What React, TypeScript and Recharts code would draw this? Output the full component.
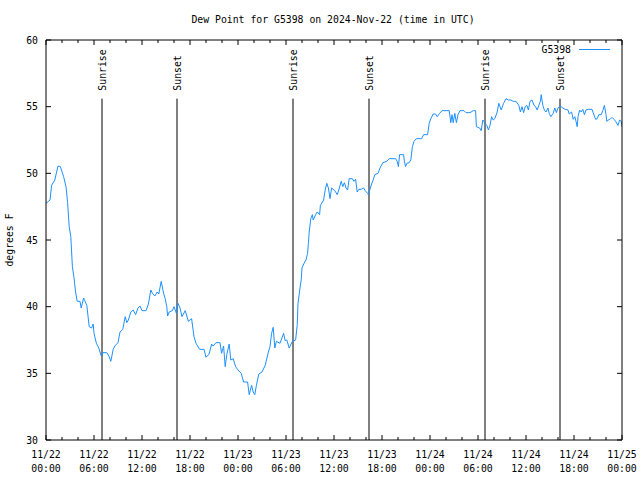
import React from 'react';
import { LineChart, Line, XAxis, YAxis, ReferenceLine } from 'recharts';

// Hours since 2024-11-22 00:00 UTC
const hours = [
  0, 0.5, 0.7, 1.1, 1.5, 1.8, 2.2, 2.5, 2.7, 2.9, 3.1, 3.3, 3.5, 3.7, 3.9, 4.25, 4.4, 4.7, 5.1, 5.4,
  5.7, 5.9, 6.0, 6.3, 6.6, 6.9, 7.1, 7.6, 7.9, 8.1, 8.4, 8.6, 9.0, 9.25, 9.6, 9.9, 10.1, 10.3, 10.6, 10.9,
  11.2, 11.5, 11.75, 12.0, 12.5, 12.8, 13.1, 13.3, 13.6, 13.9, 14.1, 14.4, 14.7, 14.9, 15.1, 15.2, 15.4, 15.8, 16.0, 16.3,
  16.5, 16.75, 17.0, 17.4, 17.8, 18.2, 18.5, 18.75, 19.2, 19.75, 20.0, 20.4, 20.7, 20.9, 21.25, 21.75, 21.95, 22.2, 22.4, 22.6,
  22.9, 23.1, 23.4, 23.7, 24.0, 24.4, 24.7, 25.2, 25.4, 25.7, 25.9, 26.1, 26.3, 26.6, 27.0, 27.4, 27.8, 28.0, 28.2, 28.4,
  28.6, 28.8, 29.25, 29.7, 29.9, 30.1, 30.4, 30.8, 31.2, 31.4, 31.5, 31.75, 31.9, 32.0, 32.25, 32.5, 32.7, 32.8, 32.9, 33.1,
  33.3, 33.4, 33.7, 33.9, 34.2, 34.3, 34.7, 34.9, 35.1, 35.3, 35.5, 35.7, 36.1, 36.4, 36.6, 36.9, 37.1, 37.3, 37.5, 37.7,
  37.9, 38.3, 38.5, 38.7, 38.9, 39.1, 39.4, 39.7, 39.9, 40.2, 40.3, 40.5, 40.7, 40.9, 41.1, 41.5, 41.75, 42.1, 42.6, 42.9,
  43.7, 43.9, 44.05, 44.2, 44.7, 44.8, 44.95, 45.1, 45.4, 45.6, 45.8, 46.0, 46.3, 46.95, 47.2, 47.7, 47.9, 48.1, 48.4, 48.7,
  48.9, 49.2, 49.5, 50.4, 50.6, 50.75, 50.9, 51.1, 51.3, 51.5, 51.75, 52.25, 52.5, 53.0, 53.4, 53.7, 53.8, 54.2, 54.4, 54.6,
  54.9, 55.1, 55.3, 55.5, 55.7, 55.9, 56.1, 56.4, 56.6, 56.9, 57.2, 57.5, 57.8, 58.1, 58.4, 58.75, 59.1, 59.3, 59.5, 59.7,
  59.9, 60.1, 60.3, 60.5, 60.75, 61.0, 61.2, 61.4, 61.6, 61.8, 61.9, 62.1, 62.3, 62.5, 62.75, 62.9, 63.1, 63.4, 63.6, 63.8,
  64.0, 64.3, 64.6, 64.9, 65.25, 65.4, 65.7, 65.9, 66.1, 66.25, 66.4, 66.5, 66.7, 66.9, 67.1, 67.3, 67.5, 67.8, 68.25, 68.4,
  68.7, 68.9, 69.1, 69.4, 69.6, 69.8, 70.0, 70.1, 70.3, 70.5, 70.75, 71.0, 71.2, 71.5, 71.7, 71.9, 72.0,
];

const dewPoint = [
  47.75, 48.0, 49.1, 49.5, 50.55, 50.5, 49.75, 49.0, 47.8, 46.0, 45.25, 43.0, 42.15, 41.1, 40.4, 40.4, 39.9, 40.65, 40.1, 38.5,
  38.4, 38.7, 38.0, 37.25, 36.9, 36.3, 36.55, 36.55, 36.25, 35.9, 36.8, 37.05, 37.3, 38.1, 38.3, 39.25, 38.8, 39.0, 39.6, 39.75,
  39.4, 39.9, 40.05, 39.7, 39.7, 40.2, 41.25, 41.0, 40.8, 41.1, 40.95, 41.9, 41.0, 40.6, 40.0, 39.3, 39.6, 39.7, 40.0, 39.5,
  40.25, 39.9, 39.25, 39.7, 38.9, 39.1, 37.75, 37.25, 36.8, 36.8, 36.2, 36.45, 37.2, 37.05, 37.3, 37.3, 36.5, 37.05, 35.5, 36.4,
  37.2, 36.0, 36.1, 35.5, 35.25, 35.0, 34.35, 34.35, 33.4, 34.1, 33.6, 33.4, 34.1, 34.95, 35.1, 35.6, 36.6, 37.0, 38.0, 38.45,
  36.9, 37.4, 37.25, 38.0, 37.45, 37.5, 36.9, 37.4, 37.5, 38.6, 40.25, 41.4, 42.0, 42.9, 43.25, 43.5, 44.0, 44.75, 45.6, 46.6,
  46.9, 46.5, 46.9, 47.1, 46.9, 47.6, 48.0, 48.75, 49.25, 48.9, 48.1, 48.9, 48.7, 48.4, 48.75, 49.4, 49.0, 49.3, 48.9, 48.75,
  49.6, 49.6, 49.4, 49.55, 48.6, 48.8, 48.8, 48.9, 48.7, 48.5, 48.4, 48.8, 49.2, 49.5, 49.9, 50.0, 50.4, 50.8, 50.9, 51.1,
  51.1, 50.9, 50.5, 51.4, 51.4, 50.9, 50.5, 50.75, 50.8, 51.0, 52.0, 52.4, 52.6, 52.6, 52.9, 52.9, 53.75, 54.1, 54.45, 54.45,
  54.25, 54.5, 54.7, 54.7, 53.8, 54.4, 53.8, 54.5, 53.8, 54.4, 54.7, 54.7, 54.55, 54.55, 54.7, 54.7, 53.5, 53.4, 53.2, 54.0,
  53.75, 53.6, 53.25, 53.6, 54.25, 54.0, 54.1, 54.6, 55.25, 54.75, 55.25, 55.6, 55.5, 55.5, 55.4, 55.4, 55.1, 54.6, 55.0, 54.55,
  55.0, 55.1, 54.75, 55.4, 55.5, 55.1, 55.0, 54.75, 55.1, 55.4, 55.9, 55.1, 54.75, 54.6, 54.9, 54.5, 54.25, 54.5, 54.9, 54.55,
  54.9, 55.05, 54.9, 54.8, 54.75, 54.45, 54.6, 54.05, 54.25, 53.9, 53.5, 54.25, 54.75, 54.6, 54.8, 54.4, 54.75, 54.8, 54.8, 54.55,
  54.05, 54.1, 54.4, 54.4, 54.7, 55.1, 54.4, 53.9, 54.0, 54.05, 54.2, 54.05, 53.9, 53.6, 54.0, 53.9, 53.5,
];

const xTicks = [0, 2, 4, 6, 8, 10, 12, 14, 16, 18, 20, 22, 24, 26, 28, 30, 32, 34, 36, 38, 40, 42, 44, 46, 48, 50, 52, 54, 56, 58, 60, 62, 64, 66, 68, 70, 72];
const majorTickHours = [0, 6, 12, 18, 24, 30, 36, 42, 48, 54, 60, 66, 72];
const tickDates = ['11/22', '11/22', '11/22', '11/22', '11/23', '11/23', '11/23', '11/23', '11/24', '11/24', '11/24', '11/24', '11/25'];
const tickTimes = ['00:00', '06:00', '12:00', '18:00', '00:00', '06:00', '12:00', '18:00', '00:00', '06:00', '12:00', '18:00', '00:00'];
const yTicks = [30, 35, 40, 45, 50, 55, 60];

const sunLabels = ['Sunrise', 'Sunset', 'Sunrise', 'Sunset', 'Sunrise', 'Sunset'];
const sunHours = [7.0, 16.375, 30.875, 40.375, 54.875, 64.25];
const sunLineTop = 55.6;

const seriesName = 'G5398';
const title = 'Dew Point for G5398 on 2024-Nov-22 (time in UTC)';
const yLabel = 'degrees F';

const FONT = '"DejaVu Sans Mono", "Liberation Mono", monospace';
const FS = 9.8;
const LINE_COLOR = '#1e90ff';

const data = hours.map((h, i) => ({ h, v: dewPoint[i] }));

const BottomTick = (props: any) => {
  const { x, y, payload } = props;
  const idx = majorTickHours.indexOf(payload.value);
  const major = idx >= 0;
  return (
    <g>
      <line x1={x} y1={y} x2={x} y2={y - (major ? 5 : 3)} stroke="#000" strokeWidth={1} />
      {major && (
        <text x={x} y={y + 18} textAnchor="middle" fontFamily={FONT} fontSize={FS} fill="#000">
          {tickDates[idx]}
        </text>
      )}
      {major && (
        <text x={x} y={y + 32} textAnchor="middle" fontFamily={FONT} fontSize={FS} fill="#000">
          {tickTimes[idx]}
        </text>
      )}
    </g>
  );
};

const TopTick = (props: any) => {
  const { x, y, payload } = props;
  const major = majorTickHours.indexOf(payload.value) >= 0;
  return <line x1={x} y1={y} x2={x} y2={y + (major ? 5 : 3)} stroke="#000" strokeWidth={1} />;
};

const LeftTick = (props: any) => {
  const { x, y, payload } = props;
  return (
    <g>
      <line x1={x} y1={y} x2={x + 5} y2={y} stroke="#000" strokeWidth={1} />
      <text x={x - 8} y={y + 3.5} textAnchor="end" fontFamily={FONT} fontSize={FS} fill="#000">
        {payload.value}
      </text>
    </g>
  );
};

const RightTick = (props: any) => {
  const { x, y } = props;
  return <line x1={x} y1={y} x2={x - 5} y2={y} stroke="#000" strokeWidth={1} />;
};

const makeSunLabel = (text: string) => (props: any) => {
  const vb = props.viewBox || {};
  const x = vb.x ?? 0;
  const y = vb.y ?? 0;
  return (
    <text
      transform={`translate(${x + 4}, ${y - 8}) rotate(-90)`}
      textAnchor="start"
      fontFamily={FONT}
      fontSize={FS}
      fill="#000"
    >
      {text}
    </text>
  );
};

const YLabel = (props: any) => {
  const vb = props.viewBox || {};
  const cx = (vb.x ?? 0) + 13;
  const cy = (vb.y ?? 0) + (vb.height ?? 0) / 2;
  return (
    <text
      transform={`translate(${cx}, ${cy}) rotate(-90)`}
      textAnchor="middle"
      fontFamily={FONT}
      fontSize={FS}
      fill="#000"
    >
      {yLabel}
    </text>
  );
};

export default function App() {
  return (
    <div style={{ position: 'absolute', left: 0, top: 0, width: 640, height: 480, background: '#fff' }}>
      <LineChart
        width={640}
        height={480}
        data={data}
        margin={{ top: 35, right: 17, bottom: 0, left: 0 }}
      >
        <XAxis
          dataKey="h"
          type="number"
          domain={[0, 72]}
          ticks={xTicks}
          interval={0}
          tick={<BottomTick />}
          tickLine={false}
          tickSize={0}
          tickMargin={0}
          height={40}
          axisLine={{ stroke: '#000' }}
          allowDataOverflow
        />
        <XAxis
          xAxisId="top"
          orientation="top"
          dataKey="h"
          type="number"
          domain={[0, 72]}
          ticks={xTicks}
          interval={0}
          tick={<TopTick />}
          tickLine={false}
          tickSize={0}
          tickMargin={0}
          height={5}
          axisLine={{ stroke: '#000' }}
          allowDataOverflow
        />
        <YAxis
          type="number"
          domain={[30, 60]}
          ticks={yTicks}
          interval={0}
          tick={<LeftTick />}
          tickLine={false}
          tickSize={0}
          tickMargin={0}
          width={46}
          axisLine={{ stroke: '#000' }}
          allowDataOverflow
          label={<YLabel />}
        />
        <YAxis
          yAxisId="right"
          orientation="right"
          type="number"
          domain={[30, 60]}
          ticks={yTicks}
          interval={0}
          tick={<RightTick />}
          tickLine={false}
          tickSize={0}
          tickMargin={0}
          width={1}
          axisLine={{ stroke: '#000' }}
          allowDataOverflow
        />
        {sunHours.map((h, i) => (
          <ReferenceLine
            key={`sun-${i}`}
            segment={[{ x: h, y: sunLineTop }, { x: h, y: 30 }]}
            stroke="#000"
            strokeWidth={1}
            ifOverflow="visible"
            label={makeSunLabel(sunLabels[i])}
          />
        ))}
        <Line
          type="linear"
          dataKey="v"
          stroke={LINE_COLOR}
          strokeWidth={1}
          dot={false}
          activeDot={false}
          isAnimationActive={false}
        />
      </LineChart>
      <svg
        width={640}
        height={480}
        style={{ position: 'absolute', left: 0, top: 0, pointerEvents: 'none' }}
      >
        <text x={333} y={23} textAnchor="middle" fontFamily={FONT} fontSize={FS} fill="#000">
          {title}
        </text>
        <text x={571} y={53} textAnchor="end" fontFamily={FONT} fontSize={FS} fill="#000">
          {seriesName}
        </text>
        <line x1={579} y1={49.5} x2={610} y2={49.5} stroke={LINE_COLOR} strokeWidth={1} />
      </svg>
    </div>
  );
}
